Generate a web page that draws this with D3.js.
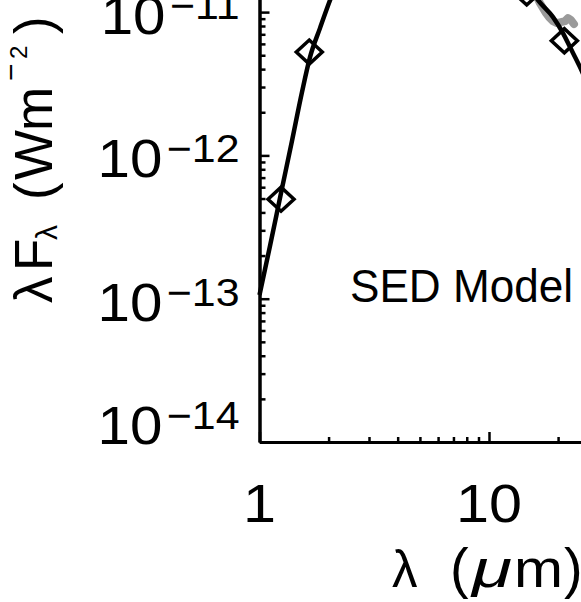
<!DOCTYPE html>
<meta charset="utf-8">
<style>
  body { margin: 0; background: #fff; }
  svg { display: block; font-family: "Liberation Sans", Arial, sans-serif; }
</style>
<body>
<script src="https://cdnjs.cloudflare.com/ajax/libs/d3/7.8.5/d3.min.js"></script>
<script>

var width = 581,
    height = 602;

// photometry points (micron, W m^-2)
var photWave = [1.241, 1.648, 14.6, 21.3];
var photFlux = [4.95e-13, 5.26e-12, 1.36e-11, 6.31e-12];

// model SED, blue side and red side (the peak sits above the frame)
var modelWave = [1.0, 1.111, 1.241, 1.385, 1.532, 1.660, 1.835, 2.029, 2.358];
var modelFlux = [1.06e-13, 2.33e-13, 5.46e-13, 1.26e-12, 2.77e-12, 4.85e-12, 7.73e-12, 1.21e-11, 2.13e-11];
var modelWaveR = [14.35, 16.35, 19.01, 21.01, 22.54, 24.92, 27.55];
var modelFluxR = [1.67e-11, 1.213e-11, 9.23e-12, 7.13e-12, 5.70e-12, 4.13e-12, 2.86e-12];

// IR spectrum (grey)
var specWave = [15.55, 16.19, 16.68, 17.19, 17.72, 18.26, 19.01, 19.79, 20.60, 21.44, 22.09, 22.77, 23.46];
var specFlux = [1.424e-11, 1.273e-11, 1.155e-11, 1.066e-11, 9.84e-12, 9.23e-12, 8.65e-12, 8.38e-12, 8.51e-12, 8.65e-12, 9.08e-12, 8.79e-12, 8.25e-12];

// axes
var xMajor = [1, 10];
var xLabels = ["1", "10"];
var yMajor = [1e-14, 1e-13, 1e-12, 1e-11];
var yExp = ["\u221214", "\u221213", "\u221212", "\u221211"];

var x = d3.scaleLog()
    .domain([1, 30])
    .range([259.5, 259.5 + 229.5 * Math.log10(30)]);

var y = d3.scaleLog()
    .domain([1e-14, 3e-11])
    .range([442, 442 - 143.3 * Math.log10(3000)]);

var svg = d3.select("body").append("svg")
    .attr("width", width)
    .attr("height", height);

// minor ticks = log ticks minus the decades
var xMinor = x.ticks().filter(function(d) { return xMajor.indexOf(d) < 0; });
var yMinor = y.ticks().filter(function(d) { return Math.abs(Math.log10(d) - Math.round(Math.log10(d))) > 1e-6; });

function styleAxis(g, w) {
  g.selectAll("line").attr("stroke", "#000").attr("stroke-width", w);
  g.selectAll("text").remove();
  g.select(".domain").attr("stroke", "#000").attr("stroke-width", 3);
}

svg.append("g")
    .attr("transform", "translate(0," + y(1e-14) + ")")
    .call(d3.axisBottom(x).tickValues(xMinor).tickSizeInner(-5).tickSizeOuter(0).tickFormat(""))
    .call(styleAxis, 2.5);
svg.append("g")
    .attr("transform", "translate(0," + y(1e-14) + ")")
    .call(d3.axisBottom(x).tickValues(xMajor).tickSizeInner(-10).tickSizeOuter(0).tickFormat(""))
    .call(styleAxis, 2.5);

svg.append("g")
    .attr("transform", "translate(" + x(1) + ",0)")
    .call(d3.axisLeft(y).tickValues(yMinor).tickSizeInner(-6).tickSizeOuter(0).tickFormat(""))
    .call(styleAxis, 2.5);
svg.append("g")
    .attr("transform", "translate(" + x(1) + ",0)")
    .call(d3.axisLeft(y).tickValues(yMajor).tickSizeInner(-10).tickSizeOuter(0).tickFormat(""))
    .call(styleAxis, 2.5);

// tick labels (the plotting font is a bit wider than Liberation, hence the x-stretch)
svg.selectAll(".xlab")
    .data(xMajor)
    .enter().append("text")
    .attr("class", "xlab")
    .attr("transform", function(d) { return "translate(" + x(d) + ",522) scale(1.12,1)"; })
    .attr("text-anchor", "middle")
    .attr("font-size", 53)
    .text(function(d, i) { return xLabels[i]; });

var ylab = svg.selectAll(".ylab")
    .data(yMajor)
    .enter().append("text")
    .attr("class", "ylab")
    .attr("transform", function(d) {
      var yy = y(d) + (d === y.domain()[0] ? 2 : 22);
      return "translate(239.5," + yy + ") scale(1.1,1)";
    })
    .attr("text-anchor", "end");
ylab.append("tspan").attr("font-size", 53).text("10");
ylab.append("tspan").attr("font-size", 39).attr("dx", 4).attr("dy", -15)
    .text(function(d, i) { return yExp[i]; });

// axis titles
var yt = svg.append("text")
    .attr("transform", "translate(52,303) rotate(-90)")
    .attr("font-size", 53);
yt.append("tspan").attr("x", 0).text("\u03bb");
yt.append("tspan").attr("x", 32).text("F");
yt.append("tspan").attr("x", 63).attr("font-size", 30).attr("dy", 5).text("\u03bb");
yt.append("tspan").attr("x", 103).attr("dy", -5).text("(");
yt.append("tspan").attr("x", 123).text("W");
yt.append("tspan").attr("x", 172).text("m");
yt.append("tspan").attr("x", 222).attr("font-size", 30).attr("dy", -31).text("\u2212");
yt.append("tspan").attr("x", 244).attr("font-size", 24).attr("dy", 6).text("2");
yt.append("tspan").attr("x", 269).attr("dy", 25).text(")");

var xt = svg.append("text")
    .attr("y", 587)
    .attr("font-size", 51);
xt.append("tspan").attr("x", 392).text("\u03bb");
xt.append("tspan").attr("x", 450).attr("font-size", 56).text("(");
xt.append("tspan").attr("x", 472).attr("font-style", "italic")
    .attr("textLength", 40).attr("lengthAdjust", "spacingAndGlyphs").text("\u03bc");
xt.append("tspan").attr("x", 514)
    .attr("textLength", 49).attr("lengthAdjust", "spacingAndGlyphs").text("m");
xt.append("tspan").attr("x", 564).attr("font-size", 56).text(")");

svg.append("text")
    .attr("x", 350)
    .attr("y", 302)
    .attr("font-size", 47)
    .attr("textLength", 223)
    .attr("lengthAdjust", "spacingAndGlyphs")
    .text("SED Model");

// data
var line = d3.line()
    .x(function(d) { return x(d[0]); })
    .y(function(d) { return y(d[1]); });

svg.append("path")
    .datum(d3.zip(specWave, specFlux))
    .attr("d", line.curve(d3.curveLinear))
    .attr("fill", "none")
    .attr("stroke", "#9a9a9a")
    .attr("stroke-width", 8)
    .attr("stroke-linejoin", "round")
    .attr("stroke-linecap", "round");

line.curve(d3.curveMonotoneX);

svg.append("path")
    .datum(d3.zip(modelWave, modelFlux))
    .attr("d", line)
    .attr("fill", "none")
    .attr("stroke", "#000")
    .attr("stroke-width", 4.5);

svg.append("path")
    .datum(d3.zip(modelWaveR, modelFluxR))
    .attr("d", line)
    .attr("fill", "none")
    .attr("stroke", "#000")
    .attr("stroke-width", 4.5);

var dw = 13, dh = 12;
svg.selectAll(".phot")
    .data(d3.zip(photWave, photFlux))
    .enter().append("path")
    .attr("class", "phot")
    .attr("d", function(d) {
      var cx = x(d[0]), cy = y(d[1]);
      return "M" + (cx - dw) + "," + cy + "L" + cx + "," + (cy - dh) +
             "L" + (cx + dw) + "," + cy + "L" + cx + "," + (cy + dh) + "Z";
    })
    .attr("fill", "none")
    .attr("stroke", "#000")
    .attr("stroke-width", 3.5);

</script>
</body>
